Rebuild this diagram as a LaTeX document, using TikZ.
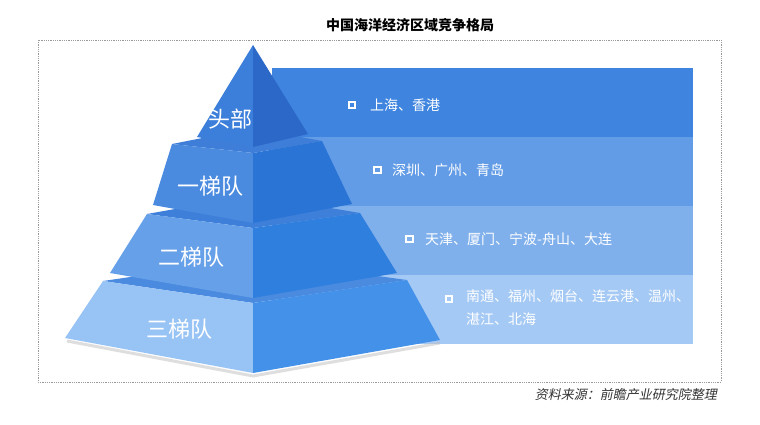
\documentclass[tikz,border=0pt]{standalone}
\usepackage{fontspec}
\newfontfamily\cjk{Noto Sans CJK SC}
\newfontfamily\cjki[FakeSlant=0.2]{Noto Sans CJK SC}
\definecolor{bandA}{HTML}{3F85DF}
\definecolor{bandB}{HTML}{629CE6}
\definecolor{bandC}{HTML}{80B0EC}
\definecolor{bandD}{HTML}{A5C9F5}
\definecolor{tAL}{HTML}{3C7FDB}
\definecolor{tAR}{HTML}{2B68C8}
\definecolor{tBL}{HTML}{4A8ADF}
\definecolor{tBR}{HTML}{2A74D6}
\definecolor{tBT}{HTML}{3E7ED8}
\definecolor{tCL}{HTML}{66A0E8}
\definecolor{tCR}{HTML}{2F7FDE}
\definecolor{tCT}{HTML}{3D7FD9}
\definecolor{tDL}{HTML}{98C3F5}
\definecolor{tDR}{HTML}{4391E9}
\definecolor{tDT}{HTML}{4A8BE0}
\definecolor{framegray}{HTML}{9A9A9A}
\tikzset{
  frame/.style={draw=framegray, line width=0.8pt, densely dotted},
  titletext/.style={font=\cjk\bfseries\fontsize{14}{16}\selectfont, text=black, inner sep=0pt},
  srctext/.style={font=\cjki\fontsize{13}{15}\selectfont, text=black!80, inner sep=0pt},
  tierlabel/.style={font=\cjk\fontsize{22}{24}\selectfont, text=white, inner sep=0pt},
  bandtext/.style={font=\cjk\fontsize{14}{23}\selectfont, text=white, inner sep=0pt, anchor=west, align=left},
  bulletbox/.style={draw=white, line width=1.8pt, minimum size=6.5pt, inner sep=0pt, fill=none}
}
\begin{document}
\begin{tikzpicture}[x=1pt,y=-1pt]
\useasboundingbox (0,0) rectangle (760,425);
\fill[white] (0,0) rectangle (760,425);
% title
\node[titletext] (title) at (410,25) {中国海洋经济区域竞争格局};
% frame
\draw[frame] (38,40) rectangle (721,382);
% bands
\fill[bandA] (272,68) rectangle (693,137);
\fill[bandB] (272,137) rectangle (693,206);
\fill[bandC] (272,206) rectangle (693,275);
\fill[bandD] (272,275) rectangle (693,344);
% shadow
\draw[black!25, line width=3pt, opacity=0.5, line join=round] (67,341) -- (253,376) -- (440,343);
% tier 4
\fill[tDT] (103,281) -- (253,259) -- (407,280) -- (253,303) -- cycle;
\fill[tDL] (103,281) -- (253,303) -- (253,373) -- (65,338) -- cycle;
\fill[tDR] (253,303) -- (407,280) -- (440,340) -- (253,373) -- cycle;
% tier 3
\fill[tCT] (147,214) -- (253,195) -- (360,213) -- (253,228) -- cycle;
\fill[tCL] (147,214) -- (253,228) -- (253,298) -- (110,273) -- cycle;
\fill[tCR] (253,228) -- (360,213) -- (397,273) -- (253,298) -- cycle;
% tier 2
\fill[tBT] (172,144) -- (253,128) -- (322,141) -- (253,153) -- cycle;
\fill[tBL] (172,144) -- (253,153) -- (253,223) -- (153,205) -- cycle;
\fill[tBR] (253,153) -- (322,141) -- (352,204) -- (253,223) -- cycle;
% tier 1
\fill[tAL] (253,45) -- (253,147) -- (197,137) -- cycle;
\fill[tAR] (253,45) -- (308,134) -- (253,147) -- cycle;
% tier labels
\node[tierlabel] (l1) at (230,119) {头部};
\node[tierlabel] (l2) at (210,186) {一梯队};
\node[tierlabel] (l3) at (191,257) {二梯队};
\node[tierlabel] (l4) at (179,329) {三梯队};
% band bullets and texts
\node[bulletbox] (b1) at (352,105) {};
\node[bandtext] (t1) at (370,105) {上海、香港};
\node[bulletbox] (b2) at (377.5,170) {};
\node[bandtext] (t2) at (392,170) {深圳、广州、青岛};
\node[bulletbox] (b3) at (409.5,239) {};
\node[bandtext] (t3) at (425,239) {天津、厦门、宁波-舟山、大连};
\node[bulletbox] (b4) at (449,299) {};
\node[bandtext, anchor=north west] (t4) at (466,289) {南通、福州、烟台、连云港、温州、\\湛江、北海};
% source
\node[srctext, anchor=east] (src) at (717,395) {资料来源：前瞻产业研究院整理};
\end{tikzpicture}
\end{document}
